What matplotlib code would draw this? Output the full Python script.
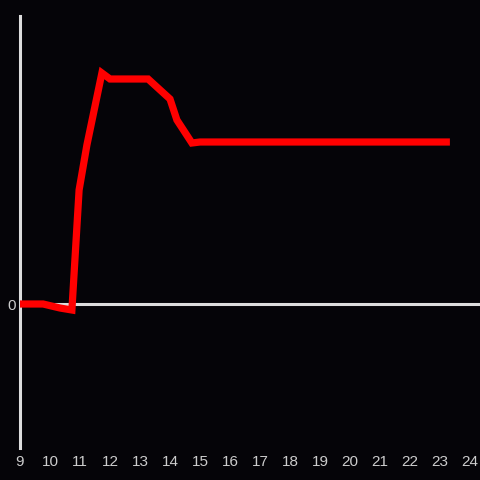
import matplotlib
matplotlib.use("Agg")
import matplotlib.pyplot as plt

x_vals = [9.0, 9.77, 10.33, 10.73, 10.97, 11.23, 11.73, 12.0, 13.27, 14.0, 14.23, 14.73, 15.0, 23.33]
y_vals = [0.0, 0.0, -0.04, -0.06, 1.14, 1.59, 2.31, 2.25, 2.25, 2.05, 1.84, 1.61, 1.62, 1.62]
x_ticks = list(range(9, 25))
y_ticks = [0]

bg = "#050408"
axis_col = "#dddddd"
label_col = "#cccccc"

fig = plt.figure(figsize=(4.8, 4.8), dpi=100, facecolor=bg)
ax = fig.add_axes([20/480, 32/480, 460/480, 432/480], facecolor=bg)

ax.set_xlim(9, 9 + 460/30)
ax.set_ylim(-1.44, 2.88)

ax.axhline(0, color=axis_col, lw=2.2, zorder=1)
ax.plot(x_vals, y_vals, color="#ff0000", lw=5.2, solid_joinstyle="miter",
        solid_capstyle="butt", zorder=3)

for s in ["top", "right", "bottom"]:
    ax.spines[s].set_visible(False)
ax.spines["left"].set_color(axis_col)
ax.spines["left"].set_linewidth(2.2)
ax.spines["left"].set_zorder(2)

ax.set_xticks(x_ticks)
ax.set_xticklabels([str(t) for t in x_ticks])
ax.set_yticks(y_ticks)
ax.set_yticklabels(["0"])
ax.tick_params(axis="both", length=0, colors=label_col, labelsize=11)
ax.tick_params(axis="x", pad=5)
ax.tick_params(axis="y", pad=3)
for lab in ax.get_xticklabels() + ax.get_yticklabels():
    lab.set_fontfamily("Liberation Sans")

fig.savefig("out.png", dpi=100, facecolor=bg)
